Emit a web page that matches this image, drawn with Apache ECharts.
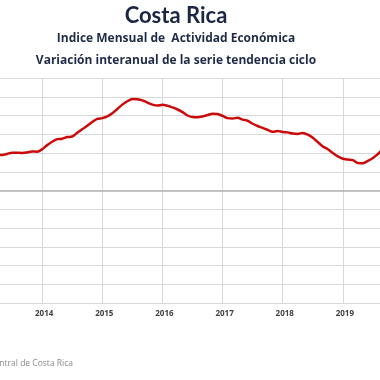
<!DOCTYPE html>
<html>
<head>
<meta charset="utf-8">
<script src="https://cdn.jsdelivr.net/npm/echarts@6/dist/echarts.min.js"></script>
<style>
html,body{margin:0;padding:0;background:#fff;overflow:hidden;width:380px;height:380px;position:relative;}
#chart{position:absolute;left:-18px;top:0;width:421px;height:380px;}
</style>
</head>
<body>
<div id="chart"></div>
<script>
// First month of the series
const startYear = 2013;
const startMonth = 3; // March
// Monthly year-on-year variation (%) of the trend-cycle series
const values = [
  1.92, 1.90, 1.90, 1.95, 2.02, 2.02, 2.00, 2.03, 2.08, 2.07,
  2.20, 2.42, 2.60, 2.74, 2.76, 2.85, 2.88, 3.08, 3.27, 3.45, 3.65, 3.82,
  3.86, 3.95, 4.12, 4.35, 4.58, 4.76, 4.88, 4.87, 4.81, 4.69, 4.58, 4.53,
  4.57, 4.52, 4.43, 4.32, 4.18, 4.00, 3.92, 3.91, 3.95, 4.02, 4.10, 4.08,
  3.98, 3.86, 3.84, 3.88, 3.78, 3.72, 3.56, 3.44, 3.34, 3.23, 3.13, 3.17,
  3.12, 3.10, 3.04, 3.02, 3.07, 2.98, 2.81, 2.58, 2.35, 2.20, 2.00, 1.82,
  1.69, 1.65, 1.62, 1.47, 1.46, 1.58, 1.73, 1.95, 2.20
];
const yearTicks = [2013, 2014, 2015, 2016, 2017, 2018, 2019, 2020];
const yMin = -6, yMax = 6, yStep = 1;

const titleText = 'Costa Rica';
const subtitle1 = 'Indice Mensual de  Actividad Económica';
const subtitle2 = 'Variación interanual de la serie tendencia ciclo';
const sourceText = 'Fuente: Banco Central de Costa Rica';

const seriesData = values.map((v, i) => {
  const m = startMonth - 1 + i;
  return [startYear + m / 12, v];
});

const OFF = 18; // chart container starts 18px left of the visible window
const chart = echarts.init(document.getElementById('chart'), null, {renderer: 'canvas'});
chart.setOption({
  animation: false,
  backgroundColor: '#ffffff',
  grid: {left: 0, right: 0, top: 78, bottom: 77, containLabel: false},
  xAxis: {
    type: 'value',
    min: yearTicks[0],
    max: yearTicks[yearTicks.length - 1],
    interval: 1,
    axisLine: {show: false},
    axisTick: {show: false},
    splitLine: {show: true, lineStyle: {color: '#d9d9d9', width: 1}},
    axisLabel: {
      showMinLabel: false, showMaxLabel: false,
      formatter: v => String(Math.round(v)),
      color: '#404040', fontSize: 8, fontWeight: 'bold',
      fontFamily: 'Open Sans', margin: 7, padding: [0, 0, 0, 4]
    }
  },
  yAxis: {
    type: 'value',
    min: yMin, max: yMax, interval: yStep,
    axisLine: {show: false},
    axisTick: {show: false},
    axisLabel: {show: false},
    splitLine: {show: true, lineStyle: {color: '#d9d9d9', width: 1}}
  },
  series: [{
    type: 'line',
    data: seriesData,
    showSymbol: false,
    smooth: 0.3,
    lineStyle: {color: '#cc0a0a', width: 2.5},
    markLine: {
      silent: true, symbol: 'none', label: {show: false},
      lineStyle: {color: '#b3b3b3', width: 1.5, type: 'solid'},
      data: [{yAxis: 0}]
    }
  }],
  graphic: [
    {type: 'text', x: 176 + OFF, y: 16, style: {text: titleText, align: 'center', verticalAlign: 'middle',
      font: 'bold 22px Lato', fill: '#1b2742'}},
    {type: 'text', x: 176 + OFF, y: 39, style: {text: subtitle1, align: 'center', verticalAlign: 'middle',
      font: 'bold 12px "Open Sans"', fill: '#1f2b47'}},
    {type: 'text', x: 176 + OFF, y: 61, style: {text: subtitle2, align: 'center', verticalAlign: 'middle',
      font: 'bold 12px "Open Sans"', fill: '#1f2b47'}},
    {type: 'text', x: 73 + OFF, y: 364, style: {text: sourceText, align: 'right', verticalAlign: 'middle',
      font: '8.5px "Open Sans"', fill: '#8c8c8c'}}
  ]
});
</script>
</body>
</html>
